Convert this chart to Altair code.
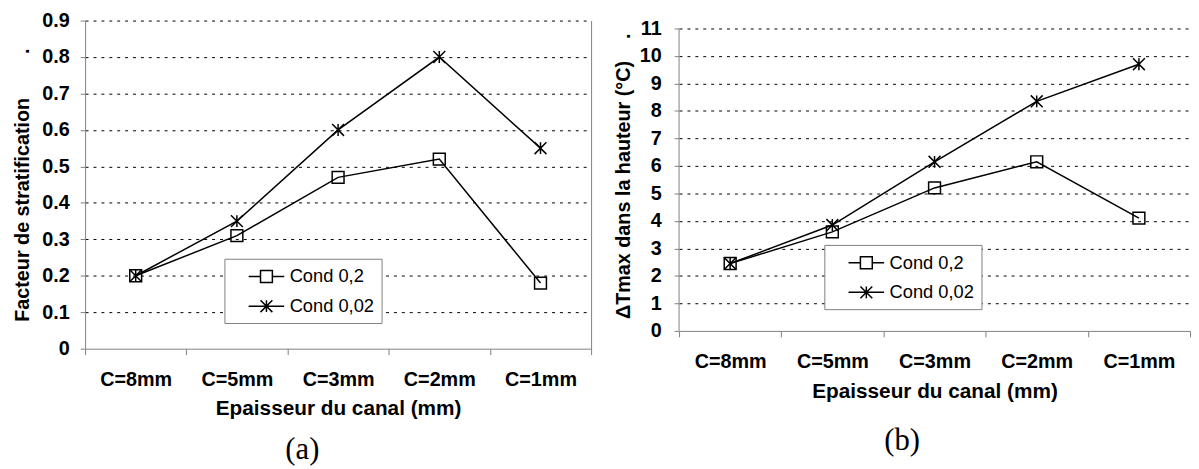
import altair as alt
import pandas as pd

# ---- data ----
cats = ["C=8mm", "C=5mm", "C=3mm", "C=2mm", "C=1mm"]
series = ["Cond 0,2", "Cond 0,02"]
strat_cond02 = [0.20, 0.31, 0.47, 0.52, 0.18]
strat_cond002 = [0.20, 0.35, 0.60, 0.80, 0.55]
dt_cond02 = [2.45, 3.60, 5.20, 6.15, 4.10]
dt_cond002 = [2.45, 3.85, 6.15, 8.35, 9.70]
strat_ticks = [0, 0.1, 0.2, 0.3, 0.4, 0.5, 0.6, 0.7, 0.8, 0.9]
dt_ticks = [0, 1, 2, 3, 4, 5, 6, 7, 8, 9, 10, 11]

FONT = "Liberation Sans"
GRAY = "#808080"

STAR = "M-1,-1L1,1M-1,1L1,-1M0,-1V1"
LEG_SQ = "M0.65,0H1.85M3.05,0H4.25M1.85,-0.6H3.05V0.6H1.85Z"
LEG_STAR = "M0.65,0H4.25M1.85,-0.6L3.05,0.6M1.85,0.6L3.05,-0.6M2.45,-0.6V0.6"


def make_df(a, b):
    rows = []
    for s, vals in zip(series, [a, b]):
        for c, v in zip(cats, vals):
            rows.append({"cat": c, "series": s, "val": v})
    return pd.DataFrame(rows)


def panel(df, ymax, yvals, yfmt, ytitle, w, h, lpad, tpad, leg_x, leg_y,
          label, label_offset, border_right, axis_rule):
    xaxis = alt.Axis(title="Epaisseur du canal (mm)", tickBand="extent", labelAngle=0,
                     domainColor=GRAY, tickColor=GRAY, tickSize=6, labelPadding=15,
                     labelFont=FONT, labelFontSize=20, labelFontWeight="bold", labelColor="black",
                     titleFont=FONT, titleFontSize=21, titleFontWeight="bold", titleColor="black",
                     titlePadding=9, grid=False)
    xscale = alt.Scale(type="band", domain=cats, paddingInner=0, paddingOuter=0)
    xenc = alt.X("cat:N", sort=cats, bandPosition=0.5, scale=xscale, axis=xaxis)
    yscale = alt.Scale(domain=[0, ymax], nice=False, zero=True)
    yaxis = alt.Axis(values=yvals, format=yfmt, title=ytitle, grid=True,
                     gridColor="black", gridDash=[3, 5], gridWidth=1,
                     gridOpacity={"condition": {"test": "datum.value == 0", "value": 0}, "value": 1},
                     domain=not axis_rule, domainColor=GRAY, tickColor=GRAY, tickSize=5,
                     labelPadding=lpad, labelFont=FONT, labelFontSize=20, labelFontWeight="bold",
                     labelColor="black", titleFont=FONT, titleFontSize=20, titleFontWeight="bold",
                     titleColor="black", titlePadding=tpad)
    yenc = alt.Y("val:Q", scale=yscale, axis=yaxis)

    base = alt.Chart(df)
    lines = base.mark_line(color="black", strokeWidth=1.5).encode(
        x=xenc, y=yenc, detail="series:N")
    pts = base.mark_point(filled=False, color="black", strokeWidth=1.5, size=144, opacity=1).encode(
        x=xenc, y=yenc,
        shape=alt.Shape("series:N", scale=alt.Scale(domain=series, range=["square", STAR]), legend=None))
    leg = base.mark_point(filled=False, color="black", opacity=0, size=400).encode(
        x=xenc, y=yenc,
        shape=alt.Shape("series:N", scale=alt.Scale(domain=series, range=[LEG_SQ, LEG_STAR]),
                        legend=alt.Legend(title=None, orient="none", legendX=leg_x, legendY=leg_y,
                                          padding=7, rowPadding=9, labelOffset=37,
                                          symbolSize=400, symbolStrokeWidth=1.5,
                                          symbolStrokeColor="black", symbolFillColor="transparent",
                                          symbolOpacity=1, labelFont=FONT, labelFontSize=18.5,
                                          labelColor="black", strokeColor=GRAY, fillColor="white",
                                          labelExpr="datum.label + '\u00a0\u00a0\u00a0\u00a0'")))
    layers = [lines, pts, leg]
    if axis_rule:
        rule_df = pd.DataFrame({"cat": [cats[0]], "lo": [yvals[0]], "hi": [yvals[-1]]})
        rule = alt.Chart(rule_df).mark_rule(color=GRAY, strokeWidth=1).encode(
            x=alt.X("cat:N", sort=cats, bandPosition=0, scale=xscale, axis=xaxis),
            y=alt.Y("lo:Q", scale=yscale, axis=yaxis), y2="hi:Q")
        layers.append(rule)
    inner = alt.layer(*layers).resolve_scale(shape="independent")
    if border_right:
        border = base.mark_point(opacity=0).encode(
            x=xenc,
            y=alt.Y("val:Q", scale=yscale,
                    axis=alt.Axis(orient="right", labels=False, ticks=False, grid=False,
                                  domainColor=GRAY, title=None)))
        chart = alt.layer(inner, border).resolve_axis(y="independent")
    else:
        chart = inner
    return chart.properties(
        width=w, height=h,
        title=alt.TitleParams(label, orient="bottom", frame="bounds", anchor="middle",
                              font="Liberation Serif", fontSize=31, fontWeight="normal",
                              color="black", offset=label_offset))


left = panel(make_df(strat_cond02, strat_cond002), 0.9, strat_ticks, ".1~f",
             "Facteur de stratification" + "\u00a0" * 8 + ".",
             512, 332, 11, 9, 141, 241, "(a)", 17, True, False)
right = panel(make_df(dt_cond02, dt_cond002), 11.287, dt_ticks, "d",
              "\u0394Tmax dans la hauteur (\u00b0C)" + "\u00a0" * 4 + ".",
              517, 314, 13, 6, 147, 227, "(b)", 26, False, True)

chart = alt.hconcat(left, right, spacing=21).properties(
    padding={"left": 5, "top": 0, "right": 0, "bottom": 0},
    background="white",
).configure_view(stroke=None)

chart.save("out.html", embed_options={"renderer": "svg", "actions": False})
